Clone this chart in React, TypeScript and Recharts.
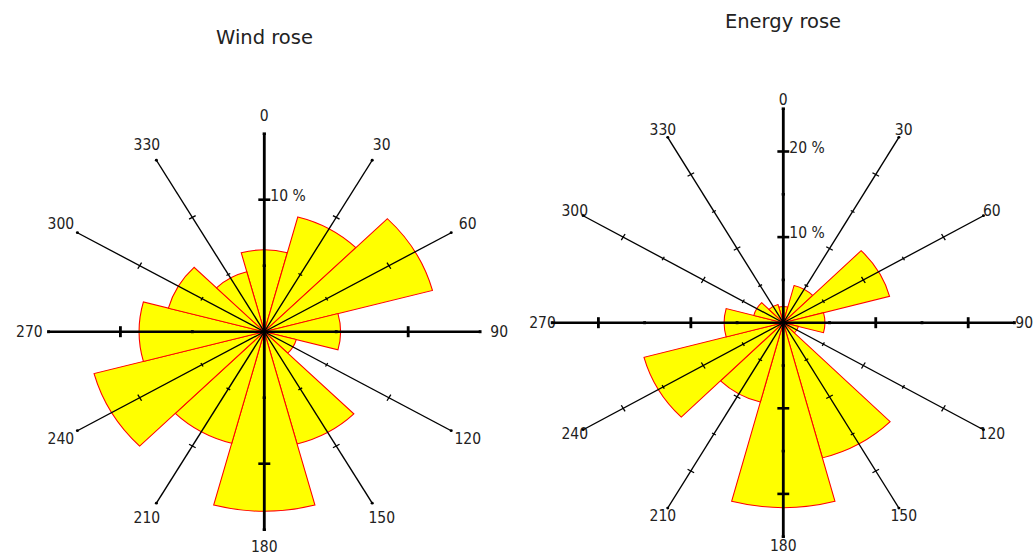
import { PolarAngleAxis, PolarRadiusAxis, RadialBar, RadialBarChart } from "recharts";

const directions = ["0", "30", "60", "90", "120", "150", "180", "210", "240", "270", "300", "330"];
const windPercent = [6.2, 9.0, 12.1, 5.3, 2.3, 8.8, 13.6, 8.75, 12.25, 8.7, 6.9, 4.7];
const energyPercent = [1.9, 4.5, 11.9, 4.5, 1.7, 16.35, 21.6, 9.6, 15.6, 6.4, 3.3, 2.2];
const windTicks = [0, 5, 10, 15];
const energyTicks = [0, 5, 10, 15, 20, 25];

const LABEL_FONT = '"DejaVu Sans Condensed", "DejaVu Sans", sans-serif';
const TITLE_FONT = '"DejaVu Sans", sans-serif';
const INK = "#222";
// sectors are centred on their direction; the angle axis tick sits half a band away
const HALF_BAND = 360 / directions.length / 2;

type Box = { left: number; top: number; width: number; height: number; cx: number; cy: number };

function DirLabel(props: any) {
  const { payload, stretch, cx, cy, r } = props;
  const a = ((payload.coordinate + HALF_BAND) * Math.PI) / 180;
  const x = cx + r * Math.cos(-a);
  const y = cy + r * Math.sin(-a);
  return (
    <g transform={`translate(${x},${y}) scale(${1 / stretch},1)`}>
      <text
        x={0}
        y={0}
        textAnchor="middle"
        dominantBaseline="central"
        fontFamily={LABEL_FONT}
        fontSize={15.5}
        fill={INK}
      >
        {payload.value}
      </text>
    </g>
  );
}

function SpokeTick(props: any) {
  const { x, y, payload, angle, cardinal, max, showUnit, stretch } = props;
  const value = payload.value;
  if (value === 0) return null;
  const rad = (angle * Math.PI) / 180;
  const px = Math.sin(rad);
  const py = Math.cos(rad);
  const major = value % 10 === 0 && value !== max;
  const end = value === max;
  let len = major ? 7 : 4;
  let width = 1.2;
  if (cardinal) {
    len = major ? 11 : 3;
    width = 2.6;
  }
  if (end && !cardinal) {
    return <circle cx={x} cy={y} r={1.4} fill="#000" />;
  }
  return (
    <g>
      <line
        x1={x - (px * len) / 2}
        y1={y - (py * len) / 2}
        x2={x + (px * len) / 2}
        y2={y + (py * len) / 2}
        stroke="#000"
        strokeWidth={width}
      />
      {showUnit && major && (
        <g transform={`translate(${x + 6 / stretch},${y + 1}) scale(${1 / stretch},1)`}>
          <text x={0} y={0} fontFamily={LABEL_FONT} fontSize={15.5} fill={INK}>
            {`${value} %`}
          </text>
        </g>
      )}
    </g>
  );
}

function Rose({
  values,
  ticks,
  radius,
  stretch,
  box,
  labelGap,
}: {
  values: number[];
  ticks: number[];
  radius: number;
  stretch: number;
  box: Box;
  labelGap: number;
}) {
  const max = ticks[ticks.length - 1];
  const rows = directions.map((dir, i) => ({ dir, value: values[i] }));

  return (
    <div
      style={{
        position: "absolute",
        left: box.left,
        top: box.top,
        width: box.width,
        height: box.height,
        transform: `scaleX(${stretch})`,
        transformOrigin: `${box.cx}px 0px`,
      }}
    >
      <RadialBarChart
        width={box.width}
        height={box.height}
        data={rows}
        layout="centric"
        cx={box.cx}
        cy={box.cy}
        innerRadius={0}
        outerRadius={radius}
        startAngle={90 - HALF_BAND}
        endAngle={-270 - HALF_BAND}
        barCategoryGap={0}
        margin={{ top: 0, right: 0, bottom: 0, left: 0 }}
      >
        <PolarAngleAxis
          type="category"
          dataKey="dir"
          axisLine={false}
          tickLine={false}
          tick={(p: any) => (
            <DirLabel {...p} stretch={stretch} cx={box.cx} cy={box.cy} r={radius + labelGap} />
          )}
        />
        <PolarRadiusAxis
          type="number"
          domain={[0, max]}
          ticks={ticks}
          allowDataOverflow
          axisLine={false}
          tick={false}
        />
        <RadialBar
          dataKey="value"
          fill="#ffff00"
          stroke="#ff0000"
          strokeWidth={1}
          isAnimationActive={false}
        />
        {directions.map((dir, i) => {
          const compass = i * 30;
          const angle = 90 - compass;
          const cardinal = compass % 90 === 0;
          return (
            <PolarRadiusAxis
              key={dir}
              radiusAxisId={`spoke${dir}`}
              type="number"
              dataKey="value"
              domain={[0, max]}
              allowDataOverflow
              ticks={ticks}
              angle={angle}
              axisLine={{ stroke: "#000", strokeWidth: cardinal ? 2.6 : 1.3 }}
              tick={(p: any) => (
                <SpokeTick
                  {...p}
                  angle={angle}
                  cardinal={cardinal}
                  max={max}
                  showUnit={compass === 0}
                  stretch={stretch}
                />
              )}
            />
          );
        })}
      </RadialBarChart>
    </div>
  );
}

function Title({ text, centerX, top }: { text: string; centerX: number; top: number }) {
  return (
    <div
      style={{
        position: "absolute",
        left: centerX - 120,
        top,
        width: 240,
        textAlign: "center",
        fontFamily: TITLE_FONT,
        fontSize: 19.5,
        lineHeight: "20px",
        color: INK,
      }}
    >
      {text}
    </div>
  );
}

export default function App() {
  return (
    <div style={{ position: "absolute", left: 0, top: 0, width: 1035, height: 555, background: "#fff", overflow: "hidden" }}>
      <Title text="Wind rose" centerX={264.5} top={28} />
      <Title text="Energy rose" centerX={783} top={12} />
      <Rose
        values={windPercent}
        ticks={windTicks}
        radius={198}
        stretch={1.09}
        labelGap={17.5}
        box={{ left: 0, top: 90, width: 530, height: 465, cx: 264.3, cy: 241.7 }}
      />
      <Rose
        values={energyPercent}
        ticks={energyTicks}
        radius={214}
        stretch={1.08}
        labelGap={9}
        box={{ left: 520, top: 70, width: 515, height: 485, cx: 263.3, cy: 252.7 }}
      />
    </div>
  );
}
